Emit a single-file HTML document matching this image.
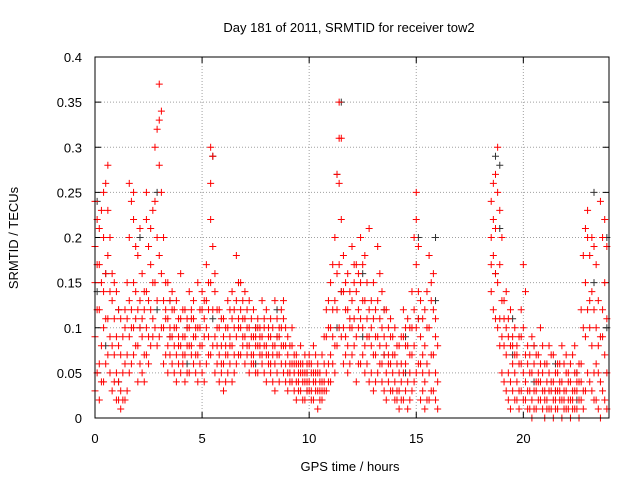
<!DOCTYPE html>
<html><head><meta charset="utf-8"><style>
html,body{margin:0;padding:0;background:#fff;}
svg{display:block;font-family:"Liberation Sans",sans-serif;}
</style></head><body>
<svg id="chart" width="640" height="480" viewBox="0 0 640 480">
<rect x="0" y="0" width="640" height="480" fill="#fff"/>
<text x="349" y="32" font-size="13" text-anchor="middle">Day 181 of 2011, SRMTID for receiver tow2</text>
<text x="350" y="471" font-size="13" text-anchor="middle">GPS time / hours</text>
<text x="18" y="238" font-size="13" text-anchor="middle" transform="rotate(-90 18 238)">SRMTID / TECUs</text>
<g id="grid"></g>
<g id="ticks"></g>
<g id="black-series"></g>
<g id="red-series"></g>
<rect x="95" y="57" width="514" height="361" fill="none" stroke="#000" stroke-width="1"/>
</svg>
<script>
const xTicks=[0,5,10,15,20];
const yTicks=[0,0.05,0.1,0.15,0.2,0.25,0.3,0.35,0.4];
const yTickLabels=["0","0.05","0.1","0.15","0.2","0.25","0.3","0.35","0.4"];
const redTimes=[0,0.2,0.4,0.6,0.8,1,1.2,1.4,1.6,1.8,2,2.2,2.4,2.6,2.8,3,3.2,3.4,3.6,3.8,4,4.2,4.4,4.6,4.8,5,5.2,5.4,5.6,5.8,6,6.2,6.4,6.6,6.8,7,7.2,7.4,7.6,7.8,8,8.2,8.4,8.6,8.8,9,9.2,9.4,9.6,9.8,10,10.2,10.4,10.6,10.8,11,11.2,11.4,11.6,11.8,12,12.2,12.4,12.6,12.8,13,13.2,13.4,13.6,13.8,14,14.2,14.4,14.6,14.8,15,15.2,15.4,15.6,15.8,16,18.6,18.8,19,19.2,19.4,19.6,19.8,20,20.2,20.4,20.6,20.8,21,21.2,21.4,21.6,21.8,22,22.2,22.4,22.6,22.8,23,23.2,23.4,23.6,23.8];
const redValues=[[0.03,0.09,0.15,0.19,0.24],[0.02,0.06,0.12,0.17,0.21],[0.04,0.1,0.14,0.2,0.25],[0.07,0.11,0.18,0.23,0.28],[0.03,0.08,0.13,0.16],[0.02,0.05,0.09,0.14],[0.01,0.03,0.07,0.11],[0.02,0.06,0.1,0.12],[0.05,0.09,0.13,0.2,0.26],[0.07,0.1,0.15,0.22,0.25],[0.04,0.08,0.12,0.18],[0.05,0.09,0.11,0.16],[0.07,0.1,0.14,0.22,0.25],[0.08,0.12,0.17,0.21],[0.1,0.15,0.24,0.3],[0.09,0.18,0.28,0.33,0.37],[0.06,0.1,0.13,0.2],[0.05,0.08,0.11,0.15],[0.06,0.09,0.12,0.14],[0.04,0.07,0.1,0.13],[0.05,0.08,0.11,0.16],[0.04,0.07,0.09,0.12],[0.05,0.08,0.1,0.14],[0.06,0.09,0.11,0.13],[0.04,0.07,0.1,0.15],[0.05,0.08,0.12,0.14],[0.06,0.1,0.13,0.17],[0.07,0.15,0.22,0.26,0.3],[0.05,0.09,0.14,0.16],[0.04,0.07,0.1,0.12],[0.03,0.06,0.09,0.11],[0.05,0.07,0.1,0.13],[0.04,0.08,0.11,0.14],[0.06,0.09,0.13,0.18],[0.07,0.1,0.12,0.15],[0.06,0.09,0.11,0.14],[0.05,0.08,0.1,0.13],[0.06,0.07,0.09,0.12],[0.05,0.08,0.1,0.11],[0.06,0.07,0.09,0.13],[0.04,0.07,0.08,0.12],[0.05,0.06,0.09,0.11],[0.03,0.06,0.08,0.13],[0.04,0.07,0.09,0.1],[0.05,0.08,0.11,0.13],[0.03,0.05,0.07,0.09],[0.04,0.06,0.08,0.1],[0.02,0.04,0.06,0.07],[0.03,0.05,0.06,0.08],[0.02,0.04,0.05,0.07],[0.03,0.04,0.06,0.07],[0.02,0.04,0.05,0.08],[0.01,0.03,0.05,0.06],[0.02,0.03,0.04,0.07],[0.03,0.05,0.09,0.12],[0.04,0.07,0.1,0.15],[0.05,0.08,0.13,0.2],[0.1,0.17,0.26,0.31,0.35],[0.06,0.1,0.14,0.18],[0.05,0.08,0.12,0.16],[0.07,0.1,0.13,0.19],[0.04,0.09,0.14,0.17],[0.06,0.11,0.15,0.2],[0.05,0.08,0.13,0.18],[0.04,0.09,0.12,0.21],[0.03,0.07,0.11,0.15],[0.05,0.09,0.13,0.19],[0.04,0.06,0.1,0.14],[0.02,0.05,0.08,0.12],[0.03,0.06,0.09,0.11],[0.02,0.04,0.07,0.1],[0.01,0.03,0.05,0.08],[0.02,0.05,0.09,0.12],[0.01,0.04,0.08,0.11],[0.03,0.07,0.1,0.14],[0.05,0.1,0.17,0.22,0.25],[0.02,0.06,0.09,0.13],[0.01,0.04,0.08,0.12],[0.02,0.05,0.1,0.18],[0.03,0.07,0.12,0.16],[0.01,0.04,0.08],[0.12,0.18,0.22,0.26],[0.1,0.15,0.25,0.3],[0.05,0.09,0.13,0.2],[0.03,0.07,0.1,0.14],[0.01,0.04,0.08,0.12],[0.02,0.05,0.07,0.1],[0.01,0.03,0.06,0.09],[0.02,0.05,0.1,0.17],[0.01,0.03,0.06,0.08],[0,0.02,0.05,0.09],[0.01,0.03,0.04,0.07],[0.02,0.04,0.06,0.1],[0,0.02,0.03,0.06],[0.01,0.03,0.05,0.08],[0,0.02,0.04,0.07],[0.01,0.03,0.05,0.06],[0,0.02,0.04,0.08],[0.01,0.03,0.05,0.07],[0,0.02,0.04,0.06],[0.01,0.03,0.05,0.08],[0,0.02,0.04,0.06],[0.01,0.03,0.1,0.18],[0.05,0.12,0.2,0.23],[0.03,0.08,0.14,0.2],[0.02,0.06,0.1,0.17],[0,0.04,0.09,0.24],[0.02,0.07,0.15,0.22]];
const redTimes2=[0.1,0.3,0.5,0.7,0.9,1.1,1.3,1.5,1.7,1.9,2.1,2.3,2.5,2.7,2.9,3.1,3.3,3.5,3.7,3.9,4.1,4.3,4.5,4.7,4.9,5.1,5.3,5.5,5.7,5.9,6.1,6.3,6.5,6.7,6.9,7.1,7.3,7.5,7.7,7.9,8.1,8.3,8.5,8.7,8.9,9.1,9.3,9.5,9.7,9.9,10.1,10.3,10.5,10.7,10.9,11.1,11.3,11.5,11.7,11.9,12.1,12.3,12.5,12.7,12.9,13.1,13.3,13.5,13.7,13.9,14.1,14.3,14.5,14.7,14.9,15.1,15.3,15.5,15.7,15.9,18.5,18.7,18.9,19.1,19.3,19.5,19.7,19.9,20.1,20.3,20.5,20.7,20.9,21.1,21.3,21.5,21.7,21.9,22.1,22.3,22.5,22.7,22.9,23.1,23.3,23.5,23.7,23.9];
const redValues2=[[0.05,0.12,0.17,0.22],[0.04,0.08,0.15,0.23],[0.06,0.11,0.16,0.26],[0.05,0.09,0.14,0.2],[0.04,0.07,0.11,0.15],[0.02,0.04,0.08,0.12],[0.02,0.05,0.09],[0.03,0.07,0.11,0.15],[0.06,0.1,0.12,0.24],[0.08,0.11,0.14,0.19],[0.06,0.1,0.13,0.21],[0.04,0.07,0.12,0.14],[0.06,0.09,0.13,0.19],[0.09,0.11,0.15,0.23],[0.08,0.13,0.2,0.32],[0.1,0.16,0.25,0.34],[0.07,0.11,0.12,0.15],[0.07,0.09,0.1,0.13],[0.05,0.08,0.1,0.12],[0.06,0.08,0.09,0.11],[0.06,0.07,0.09,0.12],[0.05,0.08,0.1,0.11],[0.07,0.08,0.11,0.12],[0.05,0.07,0.09,0.1],[0.06,0.08,0.1,0.12],[0.04,0.09,0.11,0.13],[0.07,0.09,0.12,0.15],[0.08,0.12,0.19,0.29],[0.06,0.08,0.1,0.12],[0.05,0.06,0.08,0.11],[0.04,0.07,0.08,0.1],[0.06,0.08,0.09,0.12],[0.05,0.07,0.1,0.12],[0.07,0.1,0.11,0.15],[0.08,0.09,0.11,0.13],[0.07,0.08,0.1,0.12],[0.06,0.07,0.09,0.11],[0.05,0.08,0.09,0.1],[0.07,0.08,0.09,0.1],[0.05,0.08,0.1,0.11],[0.06,0.07,0.09,0.1],[0.04,0.07,0.08,0.1],[0.05,0.07,0.09,0.11],[0.06,0.08,0.1,0.12],[0.04,0.06,0.08,0.1],[0.04,0.05,0.06,0.08],[0.03,0.05,0.06,0.07],[0.03,0.04,0.05,0.06],[0.02,0.04,0.05,0.06],[0.03,0.04,0.05,0.06],[0.02,0.03,0.05,0.06],[0.03,0.04,0.05,0.07],[0.02,0.03,0.04,0.05],[0.03,0.04,0.06,0.09],[0.04,0.06,0.1,0.13],[0.06,0.09,0.12,0.17],[0.08,0.12,0.16,0.27],[0.09,0.14,0.22,0.31],[0.07,0.09,0.12,0.15],[0.06,0.1,0.11,0.14],[0.08,0.11,0.15,0.17],[0.06,0.1,0.12,0.16],[0.07,0.1,0.13,0.17],[0.06,0.09,0.11,0.15],[0.05,0.08,0.1,0.13],[0.04,0.07,0.09,0.12],[0.06,0.08,0.11,0.16],[0.03,0.07,0.09,0.12],[0.04,0.06,0.07,0.1],[0.03,0.05,0.07,0.09],[0.02,0.03,0.06,0.08],[0.02,0.04,0.06,0.09],[0.03,0.06,0.08,0.1],[0.02,0.05,0.07,0.1],[0.04,0.08,0.12,0.2],[0.06,0.11,0.14,0.19],[0.03,0.05,0.07,0.11],[0.02,0.06,0.1,0.14],[0.03,0.07,0.13,0.15],[0.02,0.05,0.09,0.11],[0.14,0.17,0.2,0.24],[0.11,0.16,0.21,0.27],[0.08,0.11,0.17,0.23],[0.04,0.08,0.11,0.13],[0.02,0.05,0.09,0.11],[0.03,0.06,0.08,0.09],[0.02,0.04,0.07,0.08],[0.03,0.06,0.09,0.12],[0.02,0.04,0.07,0.14],[0.01,0.03,0.05,0.07],[0.01,0.03,0.06,0.08],[0.02,0.04,0.05,0.07],[0.01,0.03,0.05,0.08],[0.01,0.02,0.04,0.06],[0.01,0.03,0.04,0.07],[0.01,0.02,0.03,0.05],[0.02,0.03,0.04,0.06],[0.01,0.02,0.03,0.06],[0.01,0.02,0.04,0.05],[0.01,0.02,0.03,0.07],[0.01,0.03,0.04,0.05],[0.02,0.04,0.06,0.12],[0.03,0.09,0.15,0.21],[0.04,0.1,0.13,0.18],[0.02,0.05,0.12,0.19],[0.01,0.05,0.08,0.13],[0.03,0.09,0.12,0.2],[0.01,0.05,0.11,0.19]];
const blackTimes=[0.1,0.5,1.1,2.1,2.9,3.5,4.3,5.5,6.7,7.5,8.5,9.9,11.3,11.5,12.5,13.5,14.5,15.1,15.9,18.7,18.9,19.5,20.5,21.5,22.5,23.3,23.9];
const blackValues=[[0.14,0.24],[0.16,0.08],[0.12,0.04],[0.1,0.2],[0.25,0.12],[0.09,0.13],[0.06,0.1],[0.29,0.11],[0.15,0.07],[0.1,0.06],[0.09,0.12],[0.05,0.03],[0.27,0.1],[0.35,0.14],[0.09,0.16],[0.07,0.12],[0.05,0.09],[0.2,0.11],[0.2,0.13],[0.29,0.16],[0.28,0.21],[0.07,0.11],[0.04,0.08],[0.03,0.06],[0.05,0.02],[0.25,0.15],[0.2,0.1]];

const X0=95,X1=609,Y0=418,Y1=57;
const xs=t=>X0+(t/24)*(X1-X0);
const ys=v=>Y0-(v/0.4)*(Y0-Y1);
const NS="http://www.w3.org/2000/svg";
function mk(tag,parent,attrs){const e=document.createElementNS(NS,tag);for(const k in attrs)e.setAttribute(k,attrs[k]);parent.appendChild(e);return e;}
const grid=document.getElementById('grid'),ticks=document.getElementById('ticks');
xTicks.forEach((t,i)=>{const x=xs(t);
 if(t>0){const g=mk('line',grid,{x1:x,x2:x,y1:Y0,y2:Y1,stroke:'#a0a0a0','stroke-dasharray':'1,2'});
 
 }
 const a=mk('line',ticks,{x1:x,x2:x,y1:Y0,y2:Y0-6,stroke:'#000'});
 
 
 const b=mk('line',ticks,{x1:x,x2:x,y1:Y1,y2:Y1+6,stroke:'#000'});
 
 
 const l=mk('text',ticks,{x:x,y:443,'font-size':13,'text-anchor':'middle'});l.textContent=String(t);
 
 
});
yTicks.forEach((v,i)=>{const y=ys(v);
 if(v>0&&v<0.4){const g=mk('line',grid,{x1:X0,x2:X1,y1:y,y2:y,stroke:'#a0a0a0','stroke-dasharray':'1,2'});
 
 }
 const a=mk('line',ticks,{x1:X0,x2:X0+6,y1:y,y2:y,stroke:'#000'});
 
 
 const b=mk('line',ticks,{x1:X1,x2:X1-6,y1:y,y2:y,stroke:'#000'});
 
 
 const l=mk('text',ticks,{x:82,y:y+5,'font-size':13,'text-anchor':'end'});l.textContent=yTickLabels[i];
 
 
});
function plus(parent,t,v,color,name){const x=xs(t),y=ys(v);
 const p=mk('path',parent,{d:`M${x-3.5},${y}H${x+3.5}M${x},${y-3.5}V${y+3.5}`,stroke:color,'stroke-width':1,fill:'none'});
 
 
}
const bg=document.getElementById('black-series'),rg=document.getElementById('red-series');
blackTimes.forEach((t,i)=>blackValues[i].forEach(v=>plus(bg,t,v,'#333','black-point')));
redTimes.forEach((t,i)=>redValues[i].forEach(v=>plus(rg,t,v,'#ff0000','red-point')));
redTimes2.forEach((t,i)=>redValues2[i].forEach(v=>plus(rg,t,v,'#ff0000','red-point')));
</script>
</body></html>
